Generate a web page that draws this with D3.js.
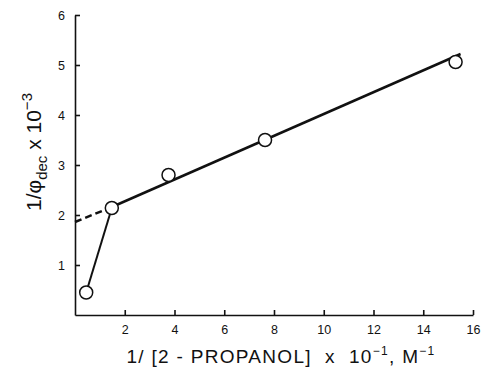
<!DOCTYPE html>
<html>
<head>
<meta charset="utf-8">
<script src="https://cdn.jsdelivr.net/npm/d3@7"></script>
<style>
  body { margin: 0; background: #fff; }
  svg { display: block; }
  .tick text { font-family: 'Liberation Sans', Arial, sans-serif; font-size: 12.5px; fill: #111; }
  .domain, .tick line { stroke: #111; stroke-width: 1.6px; }
  .lbl { font-family: 'Liberation Sans', Arial, sans-serif; fill: #111; white-space: pre; }
</style>
</head>
<body>
<script>
// measured points (1/[2-propanol] x 1e-1, 1/phi x 1e-3)
const xVals = [0.45, 1.48, 3.76, 7.64, 15.3];
const yVals = [0.45, 2.14, 2.8, 3.5, 5.06];
// fitted line: dashed extrapolation and solid part
const dashX = [0, 1.48];
const dashY = [1.86, 2.16];
const fitX = [1.48, 15.5];
const fitY = [2.16, 5.22];
// low concentration segment
const segX = [0.45, 1.48];
const segY = [0.45, 2.14];
const xTicks = [2, 4, 6, 8, 10, 12, 14, 16];
const yTicks = [1, 2, 3, 4, 5, 6];

const W = 481, H = 374;
const svg = d3.select('body').append('svg').attr('width', W).attr('height', H);

const x = d3.scaleLinear().domain([0, 16]).range([75, 473]);
const y = d3.scaleLinear().domain([0, 6]).range([315, 15]);

svg.append('g')
  .attr('transform', `translate(0,${y(0)})`)
  .call(d3.axisBottom(x).tickValues(xTicks).tickSizeInner(-5).tickSizeOuter(0).tickPadding(10)
    .tickFormat(d3.format('d')));

svg.append('g')
  .attr('transform', `translate(${x(0)},0)`)
  .call(d3.axisLeft(y).tickValues(yTicks).tickSizeInner(-5).tickSizeOuter(0).tickPadding(10)
    .tickFormat(d3.format('d')));

const line = d3.line().x(d => x(d[0])).y(d => y(d[1]));

svg.append('path')
  .datum(d3.zip(dashX, dashY))
  .attr('d', line)
  .attr('fill', 'none').attr('stroke', '#111').attr('stroke-width', 2.5)
  .attr('stroke-dasharray', '7,4');

svg.append('path')
  .datum(d3.zip(fitX, fitY))
  .attr('d', line)
  .attr('fill', 'none').attr('stroke', '#111').attr('stroke-width', 2.5);

svg.append('path')
  .datum(d3.zip(segX, segY))
  .attr('d', line)
  .attr('fill', 'none').attr('stroke', '#111').attr('stroke-width', 2);

svg.append('g').selectAll('circle')
  .data(d3.zip(xVals, yVals))
  .enter().append('circle')
  .attr('cx', d => x(d[0]))
  .attr('cy', d => y(d[1]))
  .attr('r', 6.5)
  .attr('fill', '#fff').attr('stroke', '#111').attr('stroke-width', 1.5);

// y label
const yl = svg.append('text').attr('class', 'lbl')
  .attr('transform', 'translate(41,152) rotate(-90)')
  .attr('text-anchor', 'middle')
  .style('font-size', '21px');
yl.append('tspan').text('1/\u03C6');
yl.append('tspan').attr('dy', 6).style('font-size', '15px').text('dec');
yl.append('tspan').attr('dy', -6).text(' x 10');
yl.append('tspan').attr('dy', -9).style('font-size', '15px').text('\u22123');

// x label
const xl = svg.append('text').attr('class', 'lbl')
  .attr('x', 281).attr('y', 363)
  .attr('text-anchor', 'middle')
  .style('font-size', '19px')
  .style('letter-spacing', '1.3px');
xl.append('tspan').text('1/ [2 - PROPANOL]  x  10');
xl.append('tspan').attr('dy', -8).style('font-size', '12px').text('\u22121');
xl.append('tspan').attr('dy', 8).text(', M');
xl.append('tspan').attr('dy', -8).style('font-size', '12px').text('\u22121');
</script>
</body>
</html>
